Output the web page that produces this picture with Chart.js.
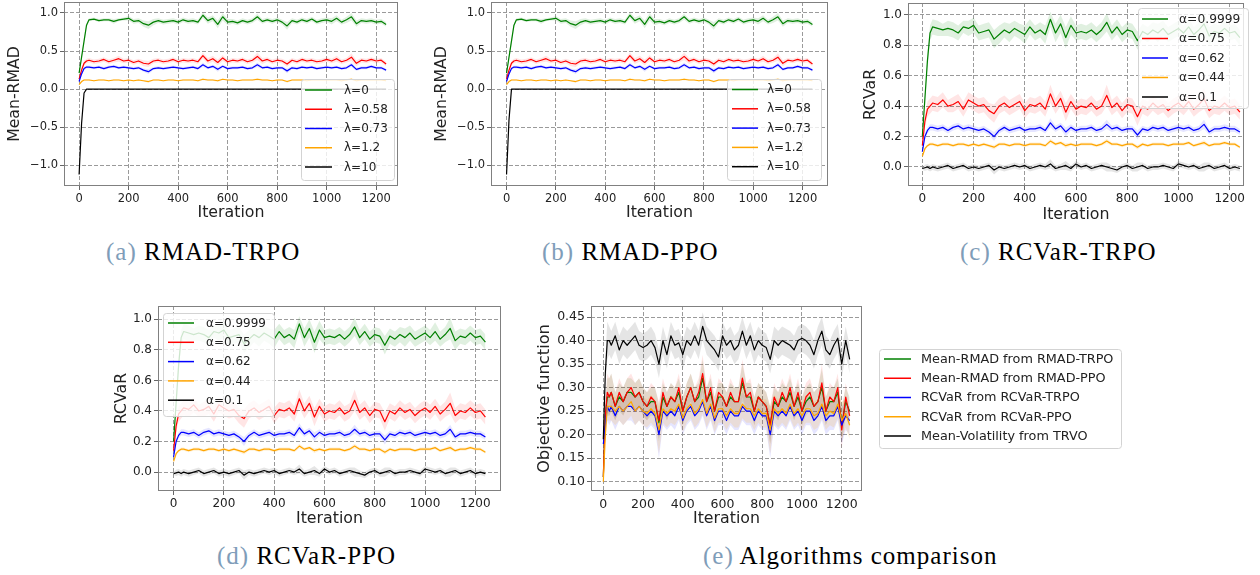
<!DOCTYPE html>
<html><head><meta charset="utf-8">
<script src="https://cdn.jsdelivr.net/npm/chart.js@4.4.1/dist/chart.umd.min.js"></script>
<style>
body{margin:0;background:#fff;width:1260px;height:575px;position:relative;overflow:hidden}
.pc{position:absolute}
.cap{position:absolute;font-family:"Liberation Serif",serif;font-size:25px;line-height:1;letter-spacing:1px;white-space:nowrap;color:#000}
.cap span{color:#7f9db9}
</style></head><body>
<canvas id="ca" class="pc" style="left:0;top:0" width="420" height="230"></canvas>
<canvas id="cb" class="pc" style="left:420px;top:0" width="420" height="230"></canvas>
<canvas id="cc" class="pc" style="left:840px;top:0" width="420" height="230"></canvas>
<canvas id="cd" class="pc" style="left:100px;top:290px" width="420" height="240"></canvas>
<canvas id="ce" class="pc" style="left:520px;top:290px" width="740" height="240"></canvas>
<div class="cap" style="left:106px;top:239px"><span>(a)</span> RMAD-TRPO</div>
<div class="cap" style="left:542px;top:239px"><span>(b)</span> RMAD-PPO</div>
<div class="cap" style="left:960px;top:239px"><span>(c)</span> RCVaR-TRPO</div>
<div class="cap" style="left:217px;top:543px"><span>(d)</span> RCVaR-PPO</div>
<div class="cap" style="left:703px;top:543px"><span>(e)</span> Algorithms comparison</div>
<script>
// ---------------- DATA ----------------
const iterations = [0,10,20,30,40,60,80,100,120,140,160,180,200,220,240,260,280,300,320,340,360,380,400,420,440,460,480,500,520,540,560,580,600,620,640,660,680,700,720,740,760,780,800,820,840,860,880,900,920,940,960,980,1000,1020,1040,1060,1080,1100,1120,1140,1160,1180,1200,1220,1240];
const xTickValues = [0,200,400,600,800,1000,1200];
const xTickLabels = ['0','200','400','600','800','1000','1200'];
const yTickValuesAB = [-1,-0.5,0,0.5,1];
const yTickLabelsAB = ['\u22121.0','\u22120.5','0.0','0.5','1.0'];
const yTickValuesCD = [0,0.2,0.4,0.6,0.8,1.0];
const yTickLabelsCD = ['0.0','0.2','0.4','0.6','0.8','1.0'];
const yTickValuesE = [0.10,0.15,0.20,0.25,0.30,0.35,0.40,0.45];
const yTickLabelsE = ['0.10','0.15','0.20','0.25','0.30','0.35','0.40','0.45'];

const legendAB = ['\u03bb=0','\u03bb=0.58','\u03bb=0.73','\u03bb=1.2','\u03bb=10'];
const legendCD = ['\u03b1=0.9999','\u03b1=0.75','\u03b1=0.62','\u03b1=0.44','\u03b1=0.1'];
const legendE = ['Mean-RMAD from RMAD-TRPO','Mean-RMAD from RMAD-PPO','RCVaR from RCVaR-TRPO','RCVaR from RCVaR-PPO','Mean-Volatility from TRVO'];

// Panels (a)/(b): Mean-RMAD
const greenA = [.21,.42,.63,.84,
 .91,.92,.90,.91,.91,.89,.91,.92,.93,.89,
 .90,.86,.84,.88,.90,.88,.89,.90,.88,.91,
 .89,.90,.88,.97,.90,.93,.85,.95,.88,.89,
 .87,.90,.88,.90,.95,.89,.91,.89,.91,.88,
 .83,.90,.88,.91,.89,.92,.88,.90,.91,.89,
 .93,.88,.91,.95,.86,.90,.89,.90,.88,.89,
 .85];
const sdGreenA = [.02,.04,.05,.03,
 .02,.02,.02,.02,.02,.03,.02,.02,.03,.03,
 .03,.04,.05,.04,.03,.03,.03,.03,.03,.03,
 .03,.03,.03,.04,.04,.04,.05,.05,.04,.03,
 .03,.03,.03,.03,.04,.03,.03,.03,.03,.03,
 .05,.03,.03,.03,.03,.03,.03,.03,.03,.04,
 .04,.03,.04,.05,.04,.03,.03,.03,.03,.03,
 .03];
const redA = [.13,.25,.34,.37,
 .38,.36,.37,.39,.36,.38,.40,.37,.38,.35,
 .37,.34,.33,.37,.38,.36,.37,.39,.36,.38,
 .37,.38,.36,.44,.37,.40,.35,.41,.36,.38,
 .37,.39,.36,.38,.43,.37,.39,.36,.38,.37,
 .33,.38,.36,.39,.37,.38,.36,.37,.39,.37,
 .40,.36,.38,.42,.34,.38,.37,.39,.37,.38,
 .33];
const sdRedA = [.02,.03,.03,.03,
 .03,.03,.03,.03,.03,.03,.04,.03,.03,.03,
 .03,.04,.04,.03,.03,.03,.03,.03,.03,.03,
 .03,.03,.03,.04,.04,.04,.04,.04,.03,.03,
 .03,.03,.03,.03,.05,.04,.03,.03,.03,.03,
 .04,.03,.03,.03,.03,.03,.03,.03,.03,.03,
 .04,.03,.03,.05,.04,.03,.03,.03,.03,.03,
 .03];
const blueA = [.10,.20,.27,.29,
 .29,.28,.29,.27,.29,.30,.28,.29,.28,.27,
 .28,.25,.23,.27,.28,.27,.28,.29,.28,.27,
 .28,.29,.27,.32,.28,.30,.26,.30,.27,.28,
 .28,.29,.27,.28,.32,.28,.29,.27,.28,.28,
 .24,.28,.27,.29,.28,.29,.27,.28,.29,.28,
 .29,.27,.28,.32,.26,.28,.28,.30,.28,.28,
 .25];
const orangeA = [.06,.10,.12,.12,
 .12,.11,.12,.12,.11,.12,.12,.11,.12,.11,
 .12,.11,.10,.12,.12,.11,.12,.12,.11,.12,
 .12,.12,.11,.13,.12,.12,.11,.13,.12,.12,
 .11,.12,.12,.12,.13,.12,.12,.11,.12,.12,
 .10,.12,.12,.12,.11,.12,.12,.12,.12,.12,
 .12,.11,.12,.13,.11,.12,.12,.12,.12,.12,
 .11];
const blackA = [-1.12,-.45,-.05,0,
 0,0,0,0,0,0,0,0,0,0, 0,0,0,0,0,0,0,0,0,0, 0,0,0,0,0,0,0,0,0,0,
 0,0,0,0,0,0,0,0,0,0, 0,0,0,0,0,0,0,0,0,0, 0,0,0,0,0,0,0,0,0,0, 0];
const blackB = [-1.12,-.40,0,0,
 0,0,0,0,0,0,0,0,0,0, 0,0,0,0,0,0,0,0,0,0, 0,0,0,0,0,0,0,0,0,0,
 0,0,0,0,0,0,0,0,0,0, 0,0,0,0,0,0,0,0,0,0, 0,0,0,0,0,0,0,0,0,0, 0];

// shared small spreads
const sdBlue = [.01,.02,.02,.02,
 .02,.02,.02,.02,.02,.02,.02,.02,.02,.02,
 .02,.02,.03,.02,.02,.02,.02,.02,.02,.02,
 .02,.02,.02,.03,.02,.02,.03,.02,.02,.02,
 .02,.02,.02,.02,.03,.02,.02,.02,.02,.02,
 .03,.02,.02,.02,.02,.02,.02,.02,.02,.02,
 .02,.02,.02,.03,.02,.02,.02,.02,.02,.02,
 .02];
const sdOrange = [.01,.01,.01,.01,
 .01,.01,.01,.01,.01,.01,.01,.01,.01,.01,
 .01,.01,.015,.01,.01,.01,.01,.01,.01,.01,
 .01,.01,.01,.015,.01,.01,.015,.01,.01,.01,
 .01,.01,.01,.01,.015,.01,.01,.01,.01,.01,
 .015,.01,.01,.01,.01,.01,.01,.01,.01,.01,
 .01,.01,.01,.015,.01,.01,.01,.01,.01,.01,
 .01];

// Panels (c)/(d): RCVaR
const greenC = [.20,.45,.70,.88,
 .92,.91,.90,.91,.90,.88,.92,.91,.93,.88,
 .89,.90,.84,.87,.90,.88,.91,.89,.87,.92,
 .88,.90,.87,.97,.88,.94,.85,.93,.88,.89,
 .88,.90,.87,.90,.95,.88,.92,.87,.90,.89,
 .83,.89,.87,.90,.88,.91,.87,.89,.91,.88,
 .92,.87,.90,.94,.86,.89,.88,.91,.88,.89,
 .85];
const sdGreenC = [.03,.05,.06,.05,
 .05,.05,.04,.05,.05,.05,.04,.05,.05,.05,
 .05,.05,.06,.06,.05,.06,.05,.05,.06,.05,
 .05,.05,.06,.05,.06,.06,.07,.06,.05,.05,
 .05,.05,.05,.05,.06,.05,.05,.05,.05,.05,
 .06,.05,.05,.05,.06,.05,.05,.05,.05,.05,
 .06,.05,.05,.07,.06,.05,.05,.05,.05,.05,
 .05];
const redC = [.14,.30,.38,.40,
 .42,.41,.44,.40,.41,.43,.38,.44,.42,.40,
 .41,.37,.35,.40,.42,.39,.41,.43,.37,.41,
 .40,.42,.38,.48,.40,.45,.36,.43,.38,.40,
 .39,.42,.38,.40,.47,.39,.42,.37,.41,.40,
 .33,.40,.38,.42,.39,.41,.37,.40,.42,.39,
 .43,.38,.41,.45,.37,.40,.39,.42,.39,.40,
 .36];
const sdRedC = [.03,.04,.05,.05,
 .05,.05,.05,.04,.05,.05,.05,.05,.05,.05,
 .05,.05,.06,.05,.05,.05,.05,.05,.05,.05,
 .05,.05,.05,.06,.05,.05,.06,.05,.05,.05,
 .05,.05,.05,.05,.07,.05,.05,.05,.05,.05,
 .06,.05,.05,.05,.05,.05,.05,.05,.05,.05,
 .05,.05,.05,.07,.05,.05,.05,.05,.05,.05,
 .05];
const blueC = [.10,.20,.24,.26,
 .26,.25,.26,.24,.26,.27,.25,.26,.25,.24,
 .25,.23,.20,.24,.26,.24,.25,.26,.24,.25,
 .25,.26,.24,.29,.25,.27,.23,.26,.24,.25,
 .25,.26,.24,.25,.28,.25,.26,.24,.25,.25,
 .21,.25,.24,.26,.25,.26,.24,.25,.26,.25,
 .26,.24,.25,.28,.23,.25,.25,.26,.25,.25,
 .23];
const orangeC = [.07,.12,.14,.15,
 .15,.14,.15,.15,.14,.15,.15,.14,.15,.14,
 .15,.14,.13,.15,.15,.14,.15,.15,.14,.15,
 .15,.15,.14,.17,.15,.16,.14,.15,.14,.15,
 .15,.15,.14,.15,.17,.15,.15,.14,.15,.15,
 .13,.15,.14,.15,.15,.15,.14,.15,.15,.15,
 .16,.14,.15,.16,.14,.15,.15,.16,.15,.15,
 .13];
const blackC = [-.01,-.005,0,-.01,
 0,-.01,0,.01,-.01,0,.01,-.01,0,-.01,
 0,.01,-.02,0,-.01,0,.01,0,.01,-.01,
 0,.01,0,.02,-.01,0,.01,-.01,.02,0,
 .01,-.01,0,.01,0,-.01,-.02,0,.01,-.01,
 0,.01,-.01,0,0,.01,0,-.01,.02,.01,
 0,.01,-.01,0,.01,-.01,0,.01,-.01,0,
 -.01];

// Panel (e): comparison
const greenE = [.11,.24,.28,.28,
 .29,.26,.28,.27,.29,.29,.28,.29,.27,.26,
 .27,.27,.225,.28,.26,.28,.27,.29,.25,.28,
 .30,.27,.28,.32,.27,.29,.25,.28,.28,.26,
 .28,.27,.27,.31,.28,.28,.25,.28,.27,.26,
 .22,.27,.26,.28,.27,.29,.26,.28,.25,.27,
 .28,.26,.27,.30,.25,.27,.27,.29,.22,.27,
 .25];
const redE = [.11,.24,.29,.28,
 .29,.26,.29,.27,.29,.30,.28,.29,.27,.26,
 .28,.27,.23,.29,.26,.28,.27,.30,.25,.28,
 .30,.27,.29,.33,.27,.30,.25,.29,.28,.26,
 .29,.27,.27,.32,.28,.29,.25,.28,.27,.26,
 .22,.28,.26,.29,.27,.30,.26,.29,.25,.28,
 .29,.26,.27,.31,.25,.28,.27,.30,.21,.28,
 .24];
const blueE = [.18,.22,.26,.25,
 .26,.24,.26,.25,.26,.26,.25,.26,.25,.24,
 .25,.24,.20,.25,.24,.25,.24,.26,.23,.25,
 .26,.24,.25,.27,.24,.26,.23,.25,.25,.23,
 .25,.24,.24,.26,.25,.25,.23,.25,.24,.24,
 .20,.25,.24,.25,.24,.26,.24,.25,.23,.25,
 .25,.23,.24,.26,.23,.24,.24,.26,.22,.24,
 .23];
const orangeE = [.10,.20,.26,.26,
 .26,.25,.26,.25,.26,.27,.25,.26,.25,.245,
 .255,.245,.21,.255,.245,.255,.25,.265,.235,.255,
 .265,.245,.255,.275,.245,.265,.235,.255,.255,.24,
 .255,.245,.245,.265,.255,.255,.24,.255,.245,.245,
 .21,.255,.245,.255,.245,.265,.245,.255,.24,.255,
 .255,.24,.245,.265,.24,.25,.245,.265,.23,.245,
 .22];
const blackE = [.19,.33,.40,.40,
 .39,.41,.38,.40,.39,.40,.41,.39,.385,.39,
 .40,.385,.35,.40,.37,.41,.39,.395,.37,.40,
 .39,.41,.39,.43,.40,.39,.38,.365,.41,.39,
 .40,.38,.39,.42,.39,.41,.38,.40,.39,.385,
 .36,.40,.39,.40,.395,.39,.38,.40,.405,.40,
 .39,.37,.40,.42,.38,.37,.39,.405,.35,.40,
 .36];
const sdRedE = [.01,.03,.04,.04,
 .04,.03,.03,.03,.03,.03,.03,.03,.03,.03,
 .03,.03,.04,.03,.03,.03,.03,.03,.03,.03,
 .03,.03,.03,.04,.03,.03,.03,.03,.03,.03,
 .03,.03,.03,.04,.03,.03,.03,.03,.03,.03,
 .04,.03,.03,.03,.03,.03,.03,.03,.03,.03,
 .03,.03,.03,.04,.03,.03,.03,.03,.04,.03,
 .03];
const sdBlueE = [.01,.03,.03,.03,
 .03,.03,.03,.03,.03,.03,.03,.03,.03,.03,
 .03,.03,.05,.03,.03,.03,.03,.03,.03,.03,
 .03,.03,.03,.03,.03,.03,.03,.03,.03,.03,
 .03,.03,.03,.03,.03,.03,.03,.03,.03,.03,
 .05,.03,.03,.03,.03,.03,.03,.03,.03,.03,
 .03,.03,.03,.03,.03,.03,.03,.03,.04,.03,
 .03];
const sdBlackE = [.02,.03,.04,.03,
 .03,.03,.03,.03,.03,.03,.03,.03,.03,.03,
 .03,.03,.03,.03,.03,.03,.03,.03,.03,.03,
 .03,.03,.03,.03,.03,.03,.03,.03,.03,.03,
 .03,.03,.03,.03,.03,.03,.03,.03,.03,.03,
 .03,.03,.03,.03,.03,.03,.03,.03,.03,.03,
 .03,.03,.03,.03,.03,.03,.03,.03,.03,.03,
 .03];

// ---------------- STYLE / BUILD ----------------
const COL = {green:'#008000', red:'#ff0000', blue:'#0000ff', orange:'#ffa500', black:'#000000'};
const BAND = {green:'rgba(0,128,0,0.12)', red:'rgba(255,0,0,0.10)', blue:'rgba(0,0,255,0.10)', orange:'rgba(255,165,0,0.15)', black:'rgba(0,0,0,0.10)'};
const FONT = '"DejaVu Sans", sans-serif';
Chart.defaults.font.family = FONT;
Chart.defaults.color = '#222';

function pts(arr, sd, sign) {
  return iterations.map((x, i) => ({x: x, y: arr[i] + (sd ? sign * sd[i] : 0)}));
}

function buildDatasets(series) {
  const ds = [];
  series.forEach((s, k) => {
    if (!s.sd) return;
    ds.push({data: pts(s.y, s.sd, 1), borderWidth: 0, pointRadius: 0, fill: '+1', backgroundColor: BAND[s.c], order: 30 - k});
    ds.push({data: pts(s.y, s.sd, -1), borderWidth: 0, pointRadius: 0, fill: false, order: 30 - k});
  });
  series.forEach((s, k) => {
    ds.push({data: pts(s.y), borderColor: COL[s.c], borderWidth: 1.2, pointRadius: 0, fill: false, tension: 0, order: 10 - k, borderJoinStyle: 'round'});
  });
  return ds;
}

const framePlugin = {
  id: 'frame',
  afterDatasetsDraw(chart) {
    const {ctx, chartArea: a} = chart;
    ctx.save();
    ctx.strokeStyle = '#808080'; ctx.lineWidth = 1;
    ctx.strokeRect(Math.round(a.left) + 0.5, Math.round(a.top) + 0.5, Math.round(a.right - a.left) - 1, Math.round(a.bottom - a.top) - 1);
    ctx.restore();
  }
};

function legendPlugin(L) {
  return {
    id: 'boxLegend',
    afterDraw(chart) {
      const ctx = chart.ctx;
      ctx.save();
      const x = L.x + 0.5, y = L.y + 0.5, w = L.w, h = L.h, r = 3;
      ctx.beginPath();
      ctx.moveTo(x + r, y); ctx.lineTo(x + w - r, y); ctx.arcTo(x + w, y, x + w, y + r, r);
      ctx.lineTo(x + w, y + h - r); ctx.arcTo(x + w, y + h, x + w - r, y + h, r);
      ctx.lineTo(x + r, y + h); ctx.arcTo(x, y + h, x, y + h - r, r);
      ctx.lineTo(x, y + r); ctx.arcTo(x, y, x + r, y, r); ctx.closePath();
      ctx.fillStyle = 'rgba(255,255,255,0.8)'; ctx.fill();
      ctx.strokeStyle = '#d3d3d3'; ctx.lineWidth = 1; ctx.stroke();
      ctx.font = L.fs + 'px ' + FONT;
      ctx.textBaseline = 'middle'; ctx.textAlign = 'left';
      L.items.forEach((it, i) => {
        const yy = L.row0 + i * L.rowH;
        ctx.strokeStyle = COL[it.c]; ctx.lineWidth = 1.5;
        ctx.beginPath(); ctx.moveTo(L.lx0, yy); ctx.lineTo(L.lx1, yy); ctx.stroke();
        ctx.fillStyle = '#222';
        ctx.fillText(it.t, L.tx, yy + 0.5);
      });
      ctx.restore();
    }
  };
}

function makeChart(id, P) {
  const cv = document.getElementById(id);
  const W = cv.width, H = cv.height;
  const grid = {color: '#9a9a9a', lineWidth: 1, tickLength: 4, tickColor: '#666', tickWidth: 1, tickBorderDash: []};
  const border = {display: false, dash: [4, 2]};
  new Chart(cv, {
    type: 'line',
    data: {datasets: buildDatasets(P.series)},
    options: {
      responsive: false, animation: false, events: [],
      layout: {padding: {left: 0, top: P.area.t, right: W - P.area.r, bottom: 0}},
      plugins: {legend: {display: false}, tooltip: {enabled: false}},
      scales: {
        x: {
          type: 'linear', min: P.xr[0], max: P.xr[1],
          afterBuildTicks: s => { s.ticks = xTickValues.map(v => ({value: v})); },
          afterFit: s => { s.height = H - P.area.b; s.paddingLeft = 0; s.paddingRight = 0; },
          ticks: {autoSkip: false, maxRotation: 0, minRotation: 0, padding: 2, color: '#222', font: {size: P.tfs}, callback: (v, i) => xTickLabels[i]},
          grid: grid, border: border,
          title: {display: true, text: 'Iteration', color: '#222', font: {size: 15.8}, padding: {top: 0, bottom: P.xpb}}
        },
        y: {
          type: 'linear', min: P.yr[0], max: P.yr[1],
          afterBuildTicks: s => { s.ticks = P.yt.map(v => ({value: v})); },
          afterFit: s => { s.width = P.area.l; s.paddingTop = 0; s.paddingBottom = 0; },
          ticks: {autoSkip: false, padding: 2, color: '#222', font: {size: P.tfs}, callback: (v, i) => P.yl[i]},
          grid: grid, border: border,
          title: {display: true, text: P.ytitle, color: '#222', font: {size: P.yfs || 15.7}, padding: {top: P.ypt, bottom: 0}}
        }
      }
    },
    plugins: [framePlugin, legendPlugin(P.legend)]
  });
}

function items(labels) {
  const cs = ['green', 'red', 'blue', 'orange', 'black'];
  return labels.map((t, i) => ({t: t, c: cs[i]}));
}

makeChart('ca', {
  area: {l: 64, r: 398, t: 2, b: 186}, xr: [-61, 1288], yr: [-1.271, 1.144],
  yt: yTickValuesAB, yl: yTickLabelsAB, ytitle: 'Mean-RMAD', ypt: 5.6, xpb: 7.6, tfs: 11.5,
  series: [{y: greenA, sd: sdGreenA, c: 'green'}, {y: redA, sd: sdRedA, c: 'red'}, {y: blueA, sd: sdBlue, c: 'blue'}, {y: orangeA, sd: sdOrange, c: 'orange'}, {y: blackA, sd: null, c: 'black'}],
  legend: {x: 301, y: 79, w: 93, h: 101, row0: 90, rowH: 19.25, lx0: 305, lx1: 332, tx: 344, fs: 12, items: items(legendAB)}
});
makeChart('cb', {
  area: {l: 71, r: 408, t: 2, b: 186}, xr: [-63, 1303], yr: [-1.271, 1.144],
  yt: yTickValuesAB, yl: yTickLabelsAB, ytitle: 'Mean-RMAD', ypt: 12.3, xpb: 7.6, tfs: 11.5,
  series: [{y: greenA, sd: sdGreenA, c: 'green'}, {y: redA, sd: sdRedA, c: 'red'}, {y: blueA, sd: sdBlue, c: 'blue'}, {y: orangeA, sd: sdOrange, c: 'orange'}, {y: blackB, sd: null, c: 'black'}],
  legend: {x: 307, y: 79, w: 94, h: 101, row0: 89.5, rowH: 19.3, lx0: 312, lx1: 338, tx: 347, fs: 12, items: items(legendAB)}
});
makeChart('cc', {
  area: {l: 68, r: 404, t: 3, b: 186}, xr: [-56, 1256], yr: [-0.125, 1.077],
  yt: yTickValuesCD, yl: yTickLabelsCD, ytitle: 'RCVaR', ypt: 21.3, xpb: 5.6, tfs: 12,
  series: [{y: greenC, sd: sdGreenC, c: 'green'}, {y: redC, sd: sdRedC, c: 'red'}, {y: blueC, sd: sdBlue, c: 'blue'}, {y: orangeC, sd: sdOrange, c: 'orange'}, {y: blackC, sd: sdBlue, c: 'black'}],
  legend: {x: 298, y: 8, w: 110, h: 100, row0: 19, rowH: 19.5, lx0: 302, lx1: 328, tx: 339, fs: 12.3, items: items(legendCD)}
});
makeChart('cd', {
  area: {l: 58, r: 401, t: 16, b: 201}, xr: [-62, 1302], yr: [-0.124, 1.087],
  yt: yTickValuesCD, yl: yTickLabelsCD, ytitle: 'RCVaR', ypt: 12.3, xpb: 1.6, tfs: 12,
  series: [{y: greenC, sd: sdGreenC, c: 'green'}, {y: redC, sd: sdRedC, c: 'red'}, {y: blueC, sd: sdBlue, c: 'blue'}, {y: orangeC, sd: sdOrange, c: 'orange'}, {y: blackC, sd: sdBlue, c: 'black'}],
  legend: {x: 63, y: 23, w: 111, h: 103, row0: 33, rowH: 19.3, lx0: 68, lx1: 94, tx: 106, fs: 12, items: items(legendCD)}
});
makeChart('ce', {
  area: {l: 71, r: 342, t: 16, b: 201}, xr: [-62, 1302], yr: [0.0802, 0.4734],
  yt: yTickValuesE, yl: yTickLabelsE, ytitle: 'Objective function', yfs: 16.3, ypt: 15.2, xpb: 1.6, tfs: 12.5,
  series: [{y: greenE, sd: sdRedE, c: 'green'}, {y: redE, sd: sdRedE, c: 'red'}, {y: blueE, sd: sdBlueE, c: 'blue'}, {y: orangeE, sd: sdBlueE, c: 'orange'}, {y: blackE, sd: sdBlackE, c: 'black'}],
  legend: {x: 359, y: 59, w: 242, h: 99, row0: 69, rowH: 19.25, lx0: 364, lx1: 391, tx: 401, fs: 12.8, items: items(legendE)}
});
</script>
</body></html>
